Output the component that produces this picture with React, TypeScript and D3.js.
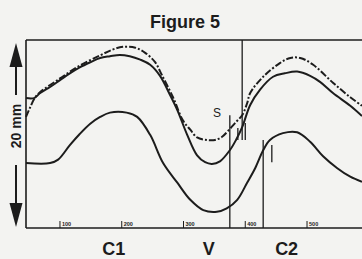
import React from "react";
import * as d3 from "d3";

// x in ms, y in mm
const tickValues = [100, 200, 300, 400, 500];
const tickLabels = ["100", "200", "300", "400", "500"];

const topSolidX = [45, 58, 68, 84, 100, 116, 132, 149, 165, 181, 197, 213, 230, 246, 262, 278, 290, 306, 322, 335, 346, 359, 375, 385, 395, 408, 424, 445, 464, 484, 505, 521, 542, 570, 589];
const topSolidY = [15.2, 15.2, 15.8, 16.5, 17.3, 18.1, 18.8, 19.4, 19.9, 20.1, 20.25, 20.1, 19.7, 19.1, 17.8, 15.6, 13.8, 10.9, 8.5, 7.7, 7.5, 7.8, 9.1, 10.3, 11.8, 14.4, 16.2, 17.7, 18.1, 18.3, 17.8, 17.1, 15.8, 14.3, 13.1];

const dashedX = [45, 51, 60, 68, 100, 132, 165, 186, 202, 222, 238, 254, 265, 283, 299, 311, 322, 338, 351, 362, 372, 385, 395, 403, 408, 429, 456, 473, 489, 510, 542, 570, 589];
const dashedY = [13.0, 14.0, 15.3, 15.9, 17.5, 19.0, 20.2, 20.9, 21.2, 21.1, 20.5, 19.4, 17.9, 15.3, 12.6, 11.5, 10.6, 10.3, 10.3, 10.65, 11.35, 12.4, 13.2, 14.6, 15.8, 17.7, 19.3, 19.9, 19.9, 19.1, 17.0, 15.3, 14.3];

const lowerX = [45, 84, 97, 116, 132, 149, 165, 181, 208, 225, 246, 267, 290, 311, 332, 354, 370, 387, 403, 416, 429, 440, 461, 484, 505, 526, 549, 570, 589];
const lowerY = [7.6, 7.6, 8.0, 9.7, 11.0, 12.2, 13.0, 13.5, 13.5, 13.0, 10.9, 7.6, 5.3, 3.3, 2.1, 1.9, 2.3, 3.3, 5.3, 7.0, 9.1, 10.3, 11.1, 11.2, 10.1, 8.4, 7.0, 6.0, 5.4];

// vertical event lines: x, from mm, to mm
const markerX = [375, 395, 429];
const markerFrom = [0, 10.3, 0];
const markerTo = [13.2, 22, 10.3];

// small event ticks
const smallTickX = [388, 400, 443];
const smallTickFrom = [10.3, 10.3, 7.7];
const smallTickTo = [11.7, 12.3, 9.7];

const phaseLabels = ["C1", "V", "C2"];
const phaseX = [187, 341, 467];

const W = 362;
const H = 259;

export default function App() {
  const x = d3.scaleLinear().domain([45, 589]).range([26, 362]);
  const y = d3.scaleLinear().domain([0, 22]).range([228, 40]);

  const line = d3
    .line<[number, number]>()
    .x((d) => x(d[0]))
    .y((d) => y(d[1]))
    .curve(d3.curveCatmullRom.alpha(0.5));

  const zip = (a: number[], b: number[]) => a.map((v, i) => [v, b[i]] as [number, number]);

  const ink = "#1c1c1c";
  const sans = "'Liberation Sans', Arial, Helvetica, sans-serif";

  return (
    <svg
      width={W}
      height={H}
      style={{ position: "absolute", left: 0, top: 0 }}
      xmlns="http://www.w3.org/2000/svg"
    >
      <rect x={0} y={0} width={W} height={H} fill="#f3f3f1" />
      <text x={185} y={28} textAnchor="middle" fontFamily={sans} fontWeight="bold" fontSize={18} fill={ink}>
        Figure 5
      </text>

      {/* frame */}
      <line x1={x(45)} x2={x(45)} y1={y(22)} y2={y(0)} stroke={ink} strokeWidth={1.6} />
      <line x1={x(45)} x2={x(589)} y1={y(22)} y2={y(22)} stroke={ink} strokeWidth={1.6} />
      <line x1={x(45)} x2={x(589)} y1={y(0)} y2={y(0)} stroke={ink} strokeWidth={1.6} />

      {/* x ticks */}
      {tickValues.map((t, i) => (
        <g key={t}>
          <line x1={x(t)} x2={x(t)} y1={y(0)} y2={y(0) - 7} stroke={ink} strokeWidth={1} />
          <text x={x(t) + 2} y={y(0) - 2} fontFamily={sans} fontWeight="bold" fontSize={5.5} fill={ink}>
            {tickLabels[i]}
          </text>
        </g>
      ))}

      {/* curves */}
      <path d={line(zip(topSolidX, topSolidY)) || ""} fill="none" stroke={ink} strokeWidth={2} />
      <path
        d={line(zip(dashedX, dashedY)) || ""}
        fill="none"
        stroke={ink}
        strokeWidth={2}
        strokeDasharray="7,2,2,2"
      />
      <path d={line(zip(lowerX, lowerY)) || ""} fill="none" stroke={ink} strokeWidth={2} />

      {/* markers */}
      {markerX.map((m, i) => (
        <line key={"m" + i} x1={x(m)} x2={x(m)} y1={y(markerFrom[i])} y2={y(markerTo[i])} stroke={ink} strokeWidth={1.3} />
      ))}
      {smallTickX.map((m, i) => (
        <line key={"s" + i} x1={x(m)} x2={x(m)} y1={y(smallTickFrom[i])} y2={y(smallTickTo[i])} stroke={ink} strokeWidth={1.3} />
      ))}

      <text x={217} y={117} textAnchor="middle" fontFamily={sans} fontSize={12} fill={ink}>
        S
      </text>

      {/* y scale arrows */}
      <g fill={ink} stroke={ink}>
        <line x1={16} x2={16} y1={60} y2={95} strokeWidth={2} />
        <path d="M16,43 L22.5,67 L9.5,67 Z" stroke="none" />
        <line x1={16} x2={16} y1={165} y2={210} strokeWidth={2} />
        <path d="M16,227 L22.5,203 L9.5,203 Z" stroke="none" />
      </g>
      <text
        transform="translate(21,126) rotate(-90)"
        textAnchor="middle"
        fontFamily={sans}
        fontWeight="bold"
        fontSize={14}
        fill={ink}
      >
        20 mm
      </text>

      {phaseLabels.map((p, i) => (
        <text key={p} x={x(phaseX[i])} y={255} textAnchor="middle" fontFamily={sans} fontWeight="bold" fontSize={18} fill={ink}>
          {p}
        </text>
      ))}
    </svg>
  );
}
